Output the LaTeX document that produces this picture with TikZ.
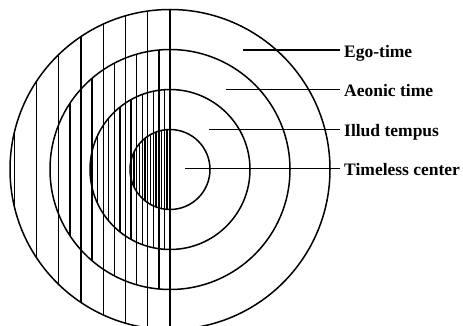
\documentclass[tikz,border=0pt]{standalone}
\usepackage{fontspec}
\setmainfont{Liberation Serif}
\begin{document}
\begin{tikzpicture}[x=1pt,y=-1pt,
  ring/.style={line width=1.5pt},
  hatch/.style={line width=1.35pt},
  lbl/.style={anchor=base west, inner xsep=4pt, inner ysep=0pt, font=\fontsize{17.5}{20}\selectfont\bfseries},
  leader/.style={line width=1.1pt}]
\useasboundingbox (0,0) rectangle (463,326);
\coordinate (c) at (170,169.5);
% hatching, density doubling towards the centre
\begin{scope}
  \clip (c) circle[radius=160];
  \foreach \k in {0,...,7} \draw[hatch] (170-\k*22.25,0) -- (170-\k*22.25,340);
\end{scope}
\begin{scope}
  \clip (c) circle[radius=120];
  \foreach \k in {1,3,...,9} \draw[hatch] (170-\k*11.125,0) -- (170-\k*11.125,340);
\end{scope}
\begin{scope}
  \clip (c) circle[radius=80];
  \foreach \k in {1,3,...,13} \draw[hatch] (170-\k*5.5625,0) -- (170-\k*5.5625,340);
\end{scope}
\begin{scope}
  \clip (c) circle[radius=40];
  \foreach \k in {1,3,...,13} \draw[hatch,line width=1.5pt] (170-\k*2.78125,0) -- (170-\k*2.78125,340);
\end{scope}
% rings
\foreach \r in {40,80,120,160} \draw[ring] (c) circle[radius=\r];
% labels
\node[lbl] (ego) at (340,57.3) {Ego-time};
\node[lbl] (aeon) at (340,96.8) {Aeonic time};
\node[lbl] (illud) at (340,136.3) {Illud tempus};
\node[lbl] (tl) at (340,175.3) {Timeless center};
\coordinate (s1) at (243,50);
\coordinate (s2) at (226,89.3);
\coordinate (s3) at (209,129.3);
\coordinate (s4) at (185,168.3);
\draw[leader] (s1) -- (s1 -| ego.west);
\draw[leader] (s2) -- (s2 -| aeon.west);
\draw[leader] (s3) -- (s3 -| illud.west);
\draw[leader] (s4) -- (s4 -| tl.west);
\end{tikzpicture}
\end{document}
